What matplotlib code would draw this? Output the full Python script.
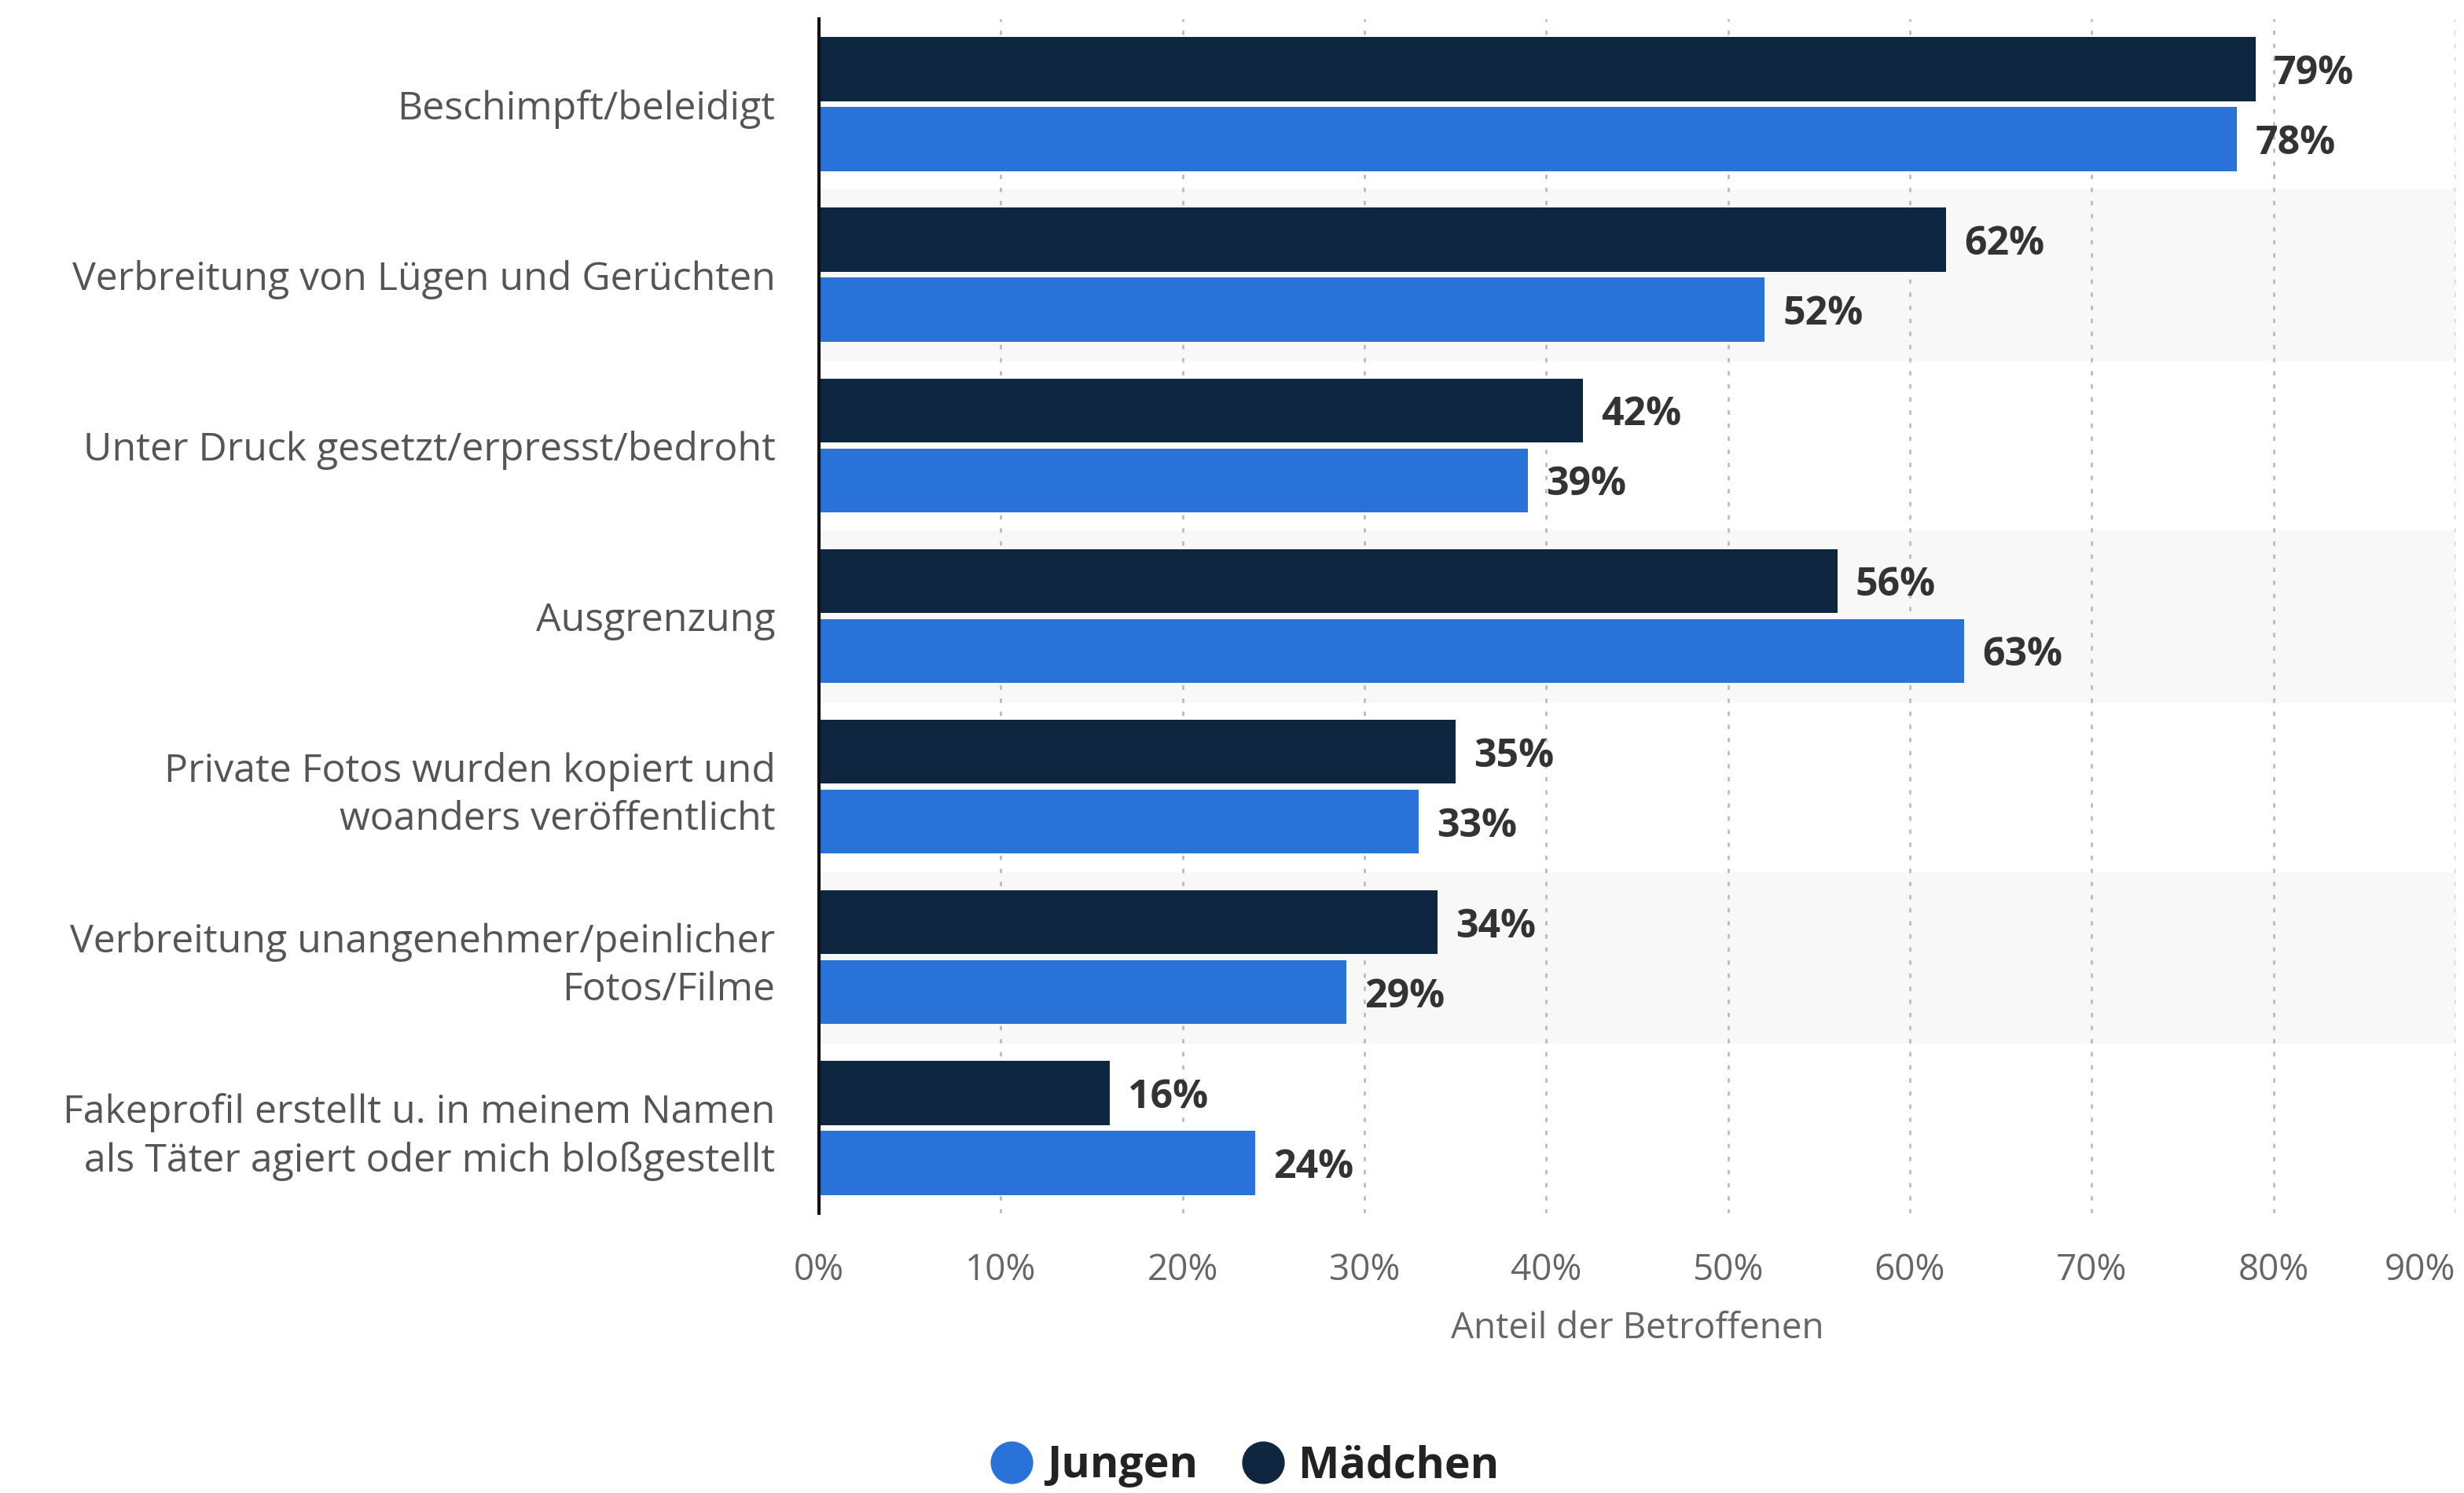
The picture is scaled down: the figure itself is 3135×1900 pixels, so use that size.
import numpy as np
import matplotlib.pyplot as plt
from matplotlib.lines import Line2D

plt.rcParams['font.family'] = ['Open Sans', 'DejaVu Sans']

categories = [
    "Beschimpft/beleidigt",
    "Verbreitung von Lügen und Gerüchten",
    "Unter Druck gesetzt/erpresst/bedroht",
    "Ausgrenzung",
    "Private Fotos wurden kopiert und\nwoanders veröffentlicht",
    "Verbreitung unangenehmer/peinlicher\nFotos/Filme",
    "Fakeprofil erstellt u. in meinem Namen\nals Täter agiert oder mich bloßgestellt",
]
maedchen = [79, 62, 42, 56, 35, 34, 16]
jungen = [78, 52, 39, 63, 33, 29, 24]
xticks = [0, 10, 20, 30, 40, 50, 60, 70, 80, 90]

dark = '#0f2640'
blue = '#2872d8'

fig = plt.figure(figsize=(31.35, 19), dpi=100)
ax = fig.add_axes([0.3324, 0.1874, 0.6641, 0.80])

y = np.arange(len(categories))
h = 0.375
off = 0.205

# alternating light bands
for i in y:
    if i % 2 == 1:
        ax.axhspan(i - 0.5, i + 0.5, color='#f8f8f8', zorder=0)

ax.barh(y - off, maedchen, height=h, color=dark, zorder=3)
ax.barh(y + off, jungen, height=h, color=blue, zorder=3)

for i in y:
    ax.text(maedchen[i] + 1.0, i - off, f"{maedchen[i]}%", va='center_baseline', ha='left',
            fontsize=36, fontweight='bold', color='#333333', zorder=4)
    ax.text(jungen[i] + 1.0, i + off, f"{jungen[i]}%", va='center_baseline', ha='left',
            fontsize=36, fontweight='bold', color='#333333', zorder=4)

ax.set_xlim(0, 90)
ax.set_ylim(6.5, -0.5)
ax.set_xticks(xticks)
ax.set_xticklabels([f"{t}%" for t in xticks], fontsize=33, color='#666666')
ax.get_xticklabels()[-1].set_horizontalalignment('right')
ax.set_yticks(y)
ax.set_yticklabels(categories, fontsize=36, color='#555555', linespacing=1.3)
ax.tick_params(axis='both', length=0)
ax.tick_params(axis='x', pad=36)
ax.tick_params(axis='y', pad=40)

ax.grid(axis='x', linestyle=(0, (2, 4)), color='#bbbbbb', linewidth=2, zorder=1)
ax.set_axisbelow(True)
for s in ['top', 'right', 'bottom']:
    ax.spines[s].set_visible(False)
ax.spines['left'].set_linewidth(3)
ax.spines['left'].set_color('#111111')
ax.spines['left'].set_zorder(5)

ax.set_xlabel("Anteil der Betroffenen", fontsize=33, color='#666666', labelpad=20)

handles = [
    Line2D([], [], marker='o', linestyle='', markersize=38, color=blue, label='Jungen'),
    Line2D([], [], marker='o', linestyle='', markersize=38, color=dark, label='Mädchen'),
]
leg = fig.legend(handles=handles, loc='center', bbox_to_anchor=(0.505, 0.018), ncol=2,
                 frameon=False, handletextpad=0.3, columnspacing=1.0, handlelength=1.0,
                 prop={'size': 40, 'weight': 'bold'})
for t in leg.get_texts():
    t.set_color('#222222')

fig.savefig('out.png', dpi=100, facecolor='white')
